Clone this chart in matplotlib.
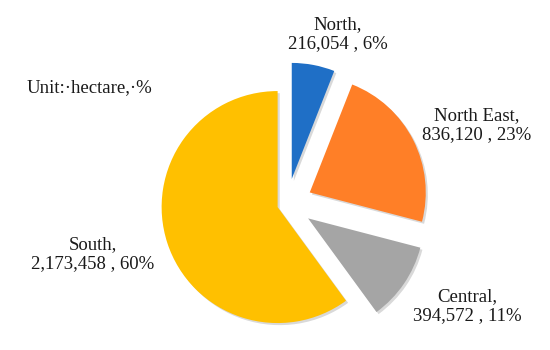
import matplotlib
matplotlib.use("Agg")
import matplotlib.pyplot as plt
import matplotlib.patheffects as pe

categories = ["North", "North East", "Central", "South"]
values = [216054, 836120, 394572, 2173458]
percents = ["6%", "23%", "11%", "60%"]
colors = ["#1F6FC6", "#FF7F27", "#A5A5A5", "#FFC000"]
explode = [0.22, 0.22, 0.22, 0.085]
unit_text = "Unit:\u00b7hectare,\u00b7%"

W, H = 550, 350
cx, cy, R = 287, 204, 116  # pixel geometry (y from top)

fig = plt.figure(figsize=(W / 100, H / 100), dpi=100)
ax = fig.add_axes([0, 0, 1, 1])
wedges, _ = ax.pie(values, colors=colors, startangle=90, counterclock=False,
                   explode=explode, radius=1.0,
                   wedgeprops=dict(linewidth=0))
for w in wedges:
    w.set_path_effects([pe.SimplePatchShadow(offset=(1.5, -1.5), shadow_rgbFace="#000000", alpha=0.15),
                        pe.Normal()])
ax.set_aspect("auto")
ax.set_xlim(-cx / R, (W - cx) / R)
ax.set_ylim(-(H - cy) / R, cy / R)
ax.axis("off")

font = ["Liberation Serif", "DejaVu Serif"]
fs = 13.5

def ftext(px, py, s, **kw):
    fig.text(px / W, 1 - py / H, s, family=font, fontsize=fs, color="#1a1a1a",
             ha="center", va="center", linespacing=1.15, **kw)

fig.text(27 / W, 1 - 88 / H, unit_text, family=font, fontsize=fs, color="#1a1a1a",
         ha="left", va="center")

label_pos = [(338, 34), (477, 125), (467, 306), (93, 254)]
for (px, py), c, v, p in zip(label_pos, categories, values, percents):
    ftext(px, py, f"{c},\n{v:,} , {p}")

fig.savefig("out.png", dpi=100, facecolor="white")
